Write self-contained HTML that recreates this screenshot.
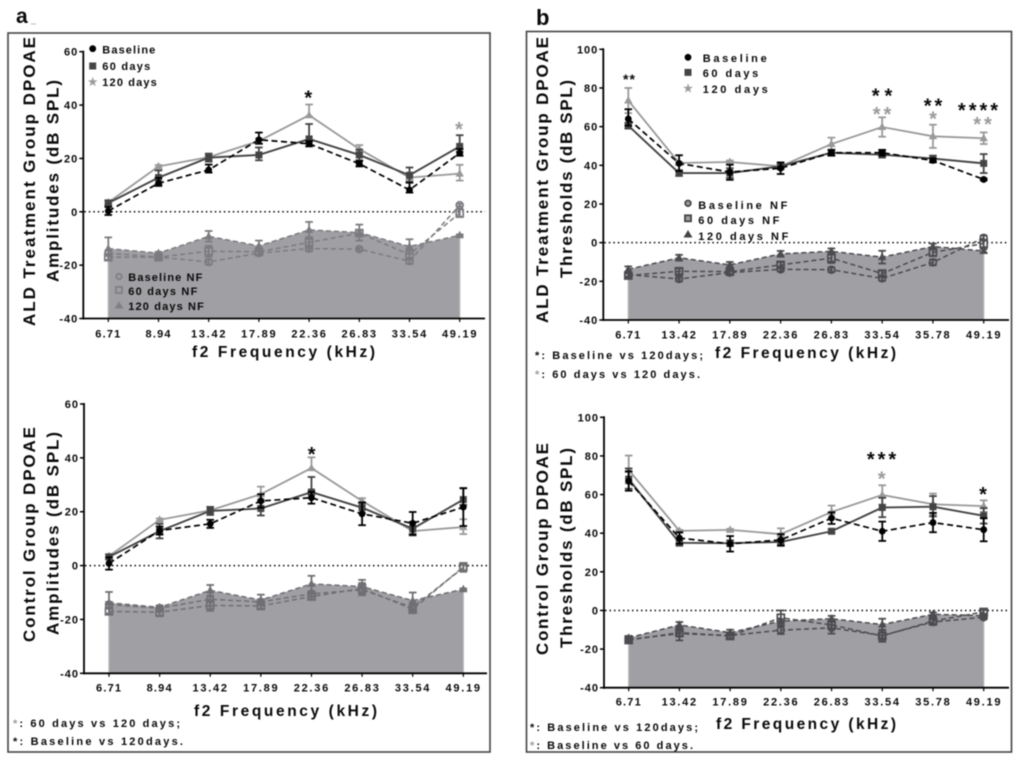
<!DOCTYPE html>
<html lang="en">
<head>
<meta charset="utf-8">
<title>DPOAE amplitudes and thresholds</title>
<style>
html,body{margin:0;padding:0;background:#fff;width:1020px;height:763px;overflow:hidden}
svg{display:block;filter:blur(0.5px)}
text{font-family:"Liberation Sans",sans-serif;font-weight:700;fill:#0a0a0a}
.frame{fill:none;stroke:#444;stroke-width:1.6}
.yt{font-size:17px}
.xt{font-size:15.5px}
.leg{font-size:11px}
.fn{font-size:11px}
.gray{fill:#9a9a9a}
.star{font-size:20px;text-anchor:middle}
</style>
</head>
<body>
<svg id="fig" xmlns="http://www.w3.org/2000/svg" width="1020" height="763" viewBox="0 0 1020 763">
  <rect x="0" y="0" width="1020" height="763" fill="#fff"/>
  <rect class="frame" x="8" y="33" width="482" height="719"/>
  <rect class="frame" x="526.5" y="31.5" width="485" height="720.5"/>
  <text x="16" y="23" style="font-size:21px">a</text>
  <rect x="31" y="23.5" width="5" height="1" fill="#bbb"/>
  <text x="536" y="25" style="font-size:22px">b</text>

  <g id="plots"></g>

  <!-- Y titles -->
  <text class="yt" transform="translate(35,326) rotate(-90)" textLength="289" lengthAdjust="spacing">ALD Treatment Group DPOAE</text>
  <text class="yt" transform="translate(58.5,282) rotate(-90)" textLength="202" lengthAdjust="spacing">Amplitudes (dB SPL)</text>
  <text class="yt" transform="translate(35,642) rotate(-90)" textLength="215" lengthAdjust="spacing">Control Group DPOAE</text>
  <text class="yt" transform="translate(58.5,635) rotate(-90)" textLength="203" lengthAdjust="spacing">Amplitudes (dB SPL)</text>
  <text class="yt" transform="translate(548,323) rotate(-90)" textLength="286" lengthAdjust="spacing">ALD Treatment Group DPOAE</text>
  <text class="yt" transform="translate(572,278) rotate(-90)" textLength="198" lengthAdjust="spacing">Thresholds (dB SPL)</text>
  <text class="yt" transform="translate(548,655) rotate(-90)" textLength="212" lengthAdjust="spacing">Control Group DPOAE</text>
  <text class="yt" transform="translate(572,648) rotate(-90)" textLength="200" lengthAdjust="spacing">Thresholds (dB SPL)</text>

  <!-- X titles -->
  <text class="xt" x="192" y="357" textLength="183" lengthAdjust="spacing">f2 Frequency (kHz)</text>
  <text class="xt" x="194" y="716" textLength="183" lengthAdjust="spacing">f2 Frequency (kHz)</text>
  <text class="xt" x="715" y="358" textLength="181" lengthAdjust="spacing">f2 Frequency (kHz)</text>
  <text class="xt" x="716" y="729" textLength="180" lengthAdjust="spacing">f2 Frequency (kHz)</text>

  <!-- Footnotes -->
  <text class="fn" x="13" y="727" textLength="167" lengthAdjust="spacing"><tspan class="gray">*</tspan>: 60 days vs 120 days;</text>
  <text class="fn" x="13" y="745" textLength="170" lengthAdjust="spacing">*: Baseline vs 120days.</text>
  <text class="fn" x="535" y="359" textLength="168" lengthAdjust="spacing">*: Baseline vs 120days;</text>
  <text class="fn" x="535" y="378" textLength="165" lengthAdjust="spacing"><tspan class="gray">*</tspan>: 60 days vs 120 days.</text>
  <text class="fn" x="530" y="731" textLength="168" lengthAdjust="spacing">*: Baseline vs 120days;</text>
  <text class="fn" x="530" y="749" textLength="163" lengthAdjust="spacing"><tspan class="gray">*</tspan>: Baseline vs 60 days.</text>

  <!-- Legends -->
  <g>
    <circle cx="92.7" cy="48.7" r="3.4" fill="#000"/>
    <rect x="89.2" y="62.5" width="7" height="7" fill="#454545"/>
    <text x="92.7" y="85.5" text-anchor="middle" style="font-size:11px;fill:#9a9a9a">★</text>
    <text class="leg" x="102.3" y="53.5" textLength="53" lengthAdjust="spacing">Baseline</text>
    <text class="leg" x="102.3" y="70" textLength="48" lengthAdjust="spacing">60 days</text>
    <text class="leg" x="102.3" y="86" textLength="54.5" lengthAdjust="spacing">120 days</text>
  </g>
  <g>
    <circle cx="119" cy="276.5" r="2.7" fill="none" stroke="#808084" stroke-width="1.8"/>
    <rect x="116" y="287" width="6" height="6" fill="none" stroke="#808084" stroke-width="1.8"/>
    <path d="M119 301.5 L123.5 308.5 L114.5 308.5 Z" fill="#808084"/>
    <text class="leg" x="128.3" y="281" textLength="74" lengthAdjust="spacing">Baseline NF</text>
    <text class="leg" x="128.3" y="295" textLength="69" lengthAdjust="spacing">60 days NF</text>
    <text class="leg" x="128.3" y="310" textLength="75.5" lengthAdjust="spacing">120 days NF</text>
  </g>
  <g>
    <circle cx="688" cy="57.3" r="3.4" fill="#000"/>
    <rect x="684.5" y="68.9" width="7" height="7" fill="#454545"/>
    <text x="688" y="92" text-anchor="middle" style="font-size:11px;fill:#9a9a9a">★</text>
    <text class="leg" x="702.7" y="62" textLength="64" lengthAdjust="spacing">Baseline</text>
    <text class="leg" x="702.7" y="77" textLength="55.5" lengthAdjust="spacing">60 days</text>
    <text class="leg" x="702.7" y="93" textLength="65" lengthAdjust="spacing">120 days</text>
  </g>
  <g>
    <circle cx="688" cy="203.3" r="2.8" fill="#a0a0a4" stroke="#444" stroke-width="1.8"/>
    <rect x="685" y="215.3" width="6" height="6" fill="#a0a0a4" stroke="#444" stroke-width="1.8"/>
    <path d="M688 230 L692.5 237.5 L683.5 237.5 Z" fill="#444"/>
    <text class="leg" x="698.3" y="209" textLength="89" lengthAdjust="spacing">Baseline NF</text>
    <text class="leg" x="698.3" y="224" textLength="81" lengthAdjust="spacing">60 days NF</text>
    <text class="leg" x="698.3" y="240" textLength="90" lengthAdjust="spacing">120 days NF</text>
  </g>

  <!-- Significance stars -->
  <text class="star" x="308.3" y="104.5">*</text>
  <text class="star gray" x="459" y="136">*</text>
  <text class="star" x="311.7" y="461">*</text>
  <text x="629.5" y="84" style="font-size:14px;letter-spacing:1px;text-anchor:middle">**</text>
  <text class="star" x="884.5" y="102.5" style="letter-spacing:5px">**</text>
  <text class="star gray" x="883.5" y="121" style="letter-spacing:3px">**</text>
  <text class="star" x="934.5" y="112.5" style="letter-spacing:3px">**</text>
  <text class="star gray" x="933" y="125.5">*</text>
  <text class="star" x="979.5" y="117" style="letter-spacing:3px">****</text>
  <text class="star gray" x="984" y="131" style="letter-spacing:3px">**</text>
  <text class="star" x="883" y="466" style="letter-spacing:3px">***</text>
  <text class="star gray" x="881.7" y="485.5">*</text>
  <text class="star" x="983" y="501">*</text>
</svg>

<script>
// Shared categories and ticks
const ampFreqs = ['6.71','8.94','13.42','17.89','22.36','26.83','33.54','49.19'];
const thrFreqs = ['6.71','13.42','17.89','22.36','26.83','33.54','35.78','49.19'];
const ampTicks = [60,40,20,0,-20,-40];
const thrTicks = [100,80,60,40,20,0,-20,-40];

// Panel a, top: ALD amplitudes
const aTopBaseline = [0.3,10.7,15.7,27,25.5,18,8.2,22];
const aTopBaselineUp = [1.5,2,2,2.7,1,1,2.7,1.5];
const aTopBaselineDown = [1.5,1,1,1.5,1,1,1,1];
const aTop60 = [3.3,12.8,20.3,21.3,27.3,21.3,13.7,24.5];
const aTop60Up = [1,2.7,1.5,2.8,5.6,2,2.9,4.2];
const aTop60Down = [1,2.5,1.5,2,1,2,2.5,2];
const aTop120 = [3.5,17,20.5,26.5,36.2,23.5,12.8,14.3];
const aTop120Up = [0.5,0.5,0.5,1,4,1.5,0.8,3.3];
const aTop120Down = [0.5,0.5,0.5,1,0.5,1.5,0.8,2.6];
const aTopBaselineNF = [-15.5,-17,-18.8,-15.5,-13.8,-14,-18.5,2.5];
const aTopBaselineNFErr = [1,0.5,1,0.8,1,0.5,1,0.5];
const aTop60NF = [-17,-17,-14.8,-15,-11.5,-8,-16,-0.5];
const aTop60NFErr = [1,0.7,2,1,2,1,2,1.5];
const aTop120NF = [-13.8,-15.5,-9.2,-12.8,-6.8,-7.8,-13,-8.8];
const aTop120NFErr = [4.2,0.5,2,2,3,3,2.7,0.3];

// Panel a, bottom: control amplitudes
const aBotBaseline = [0.8,13,15.5,24,25.2,19.2,15.7,21.7];
const aBotBaselineUp = [2.3,1.5,1.5,2.5,2.2,4.2,4.2,7];
const aBotBaselineDown = [2.3,1.5,1.5,2.5,2.2,4.2,4.2,7];
const aBot60 = [3.2,12.8,20.3,21.2,27.3,21.5,13.7,24.5];
const aBot60Up = [1,2.7,1.5,2.5,5.6,2,2.5,4.3];
const aBot60Down = [1,2.7,1.5,2.6,1,2,2.5,2];
const aBot120 = [3.5,17,20.5,26.5,36.2,24,12.8,14.3];
const aBot120Up = [0.5,0.5,0.5,2.8,4,1,1,2.9];
const aBot120Down = [0.5,0.5,0.5,2,0.5,1,1,2.6];
const aBotBaselineNF = [-14.5,-15.8,-12.5,-13.5,-10.5,-9,-15.5,-0.8];
const aBotBaselineNFErr = [1,1,2.5,1,1,2,1.5,1.5];
const aBot60NF = [-17,-17.3,-14.8,-15,-11.5,-8.5,-16.2,-0.5];
const aBot60NFErr = [1,1.5,2,1,1,2,1.5,1.5];
const aBot120NF = [-13.8,-15.5,-9.2,-12.8,-6.8,-7.8,-13,-8.8];
const aBot120NFErr = [4,0.5,2,2,3,2.5,3,0.3];

// Panel b, top: ALD thresholds
const bTopBaseline = [64,41,36.5,38.5,46.5,46.5,42.5,32.7];
const bTopBaselineUp = [5,4.2,3.8,3,1.5,1.5,1,0.5];
const bTopBaselineDown = [3.5,4,4,3,1.5,1.5,1,0.5];
const bTop60 = [60.5,36,36,39.5,46.5,45.5,43.5,41];
const bTop60Up = [1.5,1.5,2.5,1.5,1.5,2,1.5,4.8];
const bTop60Down = [1.5,1.5,2.5,1.5,1.5,1.5,1.5,5];
const bTop120 = [73.5,41.2,41.7,39.5,51,59.8,55,54];
const bTop120Up = [6.5,0.5,0.8,1,3.3,5,6,3];
const bTop120Down = [6.5,0.5,0.5,1,3,5,6,3];
const bTopBaselineNF = [-16.5,-18.8,-15.5,-13.8,-14,-18.5,-10.2,2.5];
const bTopBaselineNFErr = [1,1.2,1,1,1.2,1.2,1.5,1.2];
const bTop60NF = [-17,-14.8,-15,-11.5,-8,-16,-5,-0.5];
const bTop60NFErr = [1,1.5,1.5,1.5,2.5,1.5,2,2];
const bTop120NF = [-13.8,-7.8,-11.5,-5.8,-4.5,-7.5,-2,-4.3];
const bTop120NFErr = [1.5,1.5,1.5,1.5,1.5,3.3,1.5,1];

// Panel b, bottom: control thresholds
const bBotBaseline = [67,37.5,34.5,36.5,47.8,41,45.5,41.8];
const bBotBaselineUp = [5,3,4,3,3,5,5,6];
const bBotBaselineDown = [5,3,4,3,3,5,5,6];
const bBot60 = [68,35,34.8,35.5,41,53.3,53.7,49];
const bBot60Up = [5.5,1.5,1.5,1.5,1,5,5.5,4];
const bBot60Down = [5,1.5,1.5,1.5,1,5,5,4];
const bBot120 = [72.7,41.2,41.7,39.5,51,59.8,55,54];
const bBot120Up = [7.5,0.5,0.5,3,3.3,5,5.5,3];
const bBot120Down = [7,0.5,0.5,1,3,5,5.5,3];
const bBotBaselineNF = [-15,-12,-13,-10.2,-9,-13,-6,-3.5];
const bBotBaselineNFErr = [1,3.5,1.5,2,3,3,1.5,1];
const bBot60NF = [-15.3,-11.5,-13.2,-3.8,-7.5,-13.2,-5.5,-0.8];
const bBot60NFErr = [1,2,1.5,3.8,2,3,1.5,1];
const bBot120NF = [-14.2,-7.5,-11.5,-5.5,-4.3,-7.3,-2,-2.7];
const bBot120NFErr = [1,1.5,1.5,1,1.5,3,1,1];

const SVGNS = 'http://www.w3.org/2000/svg';

function make(parent, tag, attrs, name) {
  const node = document.createElementNS(SVGNS, tag);
  for (const k in attrs) node.setAttribute(k, attrs[k]);
  
  
  parent.appendChild(node);
  return node;
}

function marker(parent, kind, x, y, color, fill, name) {
  if (kind === 'circle') {
    return make(parent, 'circle', {cx: x, cy: y, r: 3.4, fill: fill, stroke: color, 'stroke-width': fill === color ? 0 : 1.7}, name);
  }
  if (kind === 'square') {
    return make(parent, 'rect', {x: x - 3.5, y: y - 3.5, width: 7, height: 7, fill: fill, stroke: color, 'stroke-width': fill === color ? 0 : 1.7}, name);
  }
  const p = [x, y - 4.5, x + 4.2, y + 3, x - 4.2, y + 3].join(' ');
  return make(parent, 'polygon', {points: p, fill: color}, name);
}

function drawSeries(g, sx, sy, values, up, down, opt) {
  const pts = values.map((v, i) => sx(i) + ',' + sy(v)).join(' ');
  for (let i = 0; i < values.length; i++) {
    const x = sx(i);
    const top = sy(values[i] + up[i]);
    const bot = sy(values[i] - down[i]);
    make(g, 'line', {x1: x, x2: x, y1: top, y2: bot, stroke: opt.barColor, 'stroke-width': 1.8}, opt.name + '-error-bar');
    make(g, 'line', {x1: x - 3.8, x2: x + 3.8, y1: top, y2: top, stroke: opt.barColor, 'stroke-width': 1.8}, opt.name + '-error-cap-top');
    make(g, 'line', {x1: x - 3.8, x2: x + 3.8, y1: bot, y2: bot, stroke: opt.barColor, 'stroke-width': 1.8}, opt.name + '-error-cap-bottom');
  }
  const lineAttrs = {points: pts, fill: 'none', stroke: opt.color, 'stroke-width': opt.width};
  if (opt.dash) lineAttrs['stroke-dasharray'] = opt.dash;
  make(g, 'polyline', lineAttrs, opt.name + '-line');
  for (let i = 0; i < values.length; i++) {
    marker(g, opt.kind, sx(i), sy(values[i]), opt.color, opt.fill, opt.name + '-point');
  }
}

function drawPanel(p) {
  const root = document.getElementById('plots');
  const g = make(root, 'g', {}, p.name);
  const n = p.categories.length;
  const sx = i => p.firstX + (p.lastX - p.firstX) * i / (n - 1);
  const sy = v => p.yBottom - (v - p.min) * (p.yBottom - p.yTop) / (p.max - p.min);

  // shaded noise floor under the 120-day NF series
  const floorTop = p.nf120.map((v, i) => sx(i) + ' ' + sy(v)).join(' L');
  make(g, 'path', {d: 'M' + sx(0) + ' ' + p.yBottom + ' L' + floorTop + ' L' + sx(n - 1) + ' ' + p.yBottom + ' Z', fill: '#a0a0a4'}, p.name + '-noise-floor-area');
  make(g, 'line', {x1: sx(0), x2: sx(0), y1: sy(p.nf120[0]), y2: p.yBottom, stroke: '#b4b4b6', 'stroke-width': 1.2}, p.name + '-noise-floor-left-edge');
  make(g, 'line', {x1: sx(n - 1), x2: sx(n - 1), y1: sy(p.nf120[n - 1]), y2: p.yBottom, stroke: '#b4b4b6', 'stroke-width': 1.2}, p.name + '-noise-floor-right-edge');

  // axes
  make(g, 'line', {x1: p.axisX, x2: p.axisX, y1: p.yTop - 1, y2: p.yBottom + 1, stroke: '#000', 'stroke-width': 1.8}, p.name + '-y-axis');
  make(g, 'line', {x1: p.axisX - 1, x2: p.axisEnd, y1: p.yBottom, y2: p.yBottom, stroke: '#000', 'stroke-width': 1.8}, p.name + '-x-axis');
  p.ticks.forEach(t => {
    const y = sy(t);
    make(g, 'line', {x1: p.axisX - 4, x2: p.axisX, y1: y, y2: y, stroke: '#000', 'stroke-width': 1.5}, p.name + '-y-tick');
    const lab = make(g, 'text', {x: p.axisX - 5, y: y + 4, 'text-anchor': 'end', style: 'font-size:11px;letter-spacing:1px'}, p.name + '-y-tick-label');
    lab.textContent = t;
  });
  p.categories.forEach((c, i) => {
    const x = sx(i);
    make(g, 'line', {x1: x, x2: x, y1: p.yBottom, y2: p.yBottom + 3.5, stroke: '#000', 'stroke-width': 1.2}, p.name + '-x-tick');
    const lab = make(g, 'text', {x: x - 0.5, y: p.xLabelY, 'text-anchor': 'middle', style: 'font-size:11px', textLength: c.length === 4 ? 25 : 34.5, lengthAdjust: 'spacing'}, p.name + '-x-tick-label');
    lab.textContent = c;
  });

  // zero reference
  make(g, 'line', {x1: p.axisX + 1, x2: p.axisEnd, y1: sy(0), y2: sy(0), stroke: '#000', 'stroke-width': 1.5, 'stroke-dasharray': '1.5 3'}, p.name + '-zero-line');

  // noise floor series
  const nfc = p.nfColor;
  drawSeries(g, sx, sy, p.nfBase, p.nfBaseErr, p.nfBaseErr, {name: p.name + '-baseline-nf', color: nfc, barColor: nfc, width: 1.5, dash: '5 3', kind: 'circle', fill: 'none'});
  drawSeries(g, sx, sy, p.nf60, p.nf60Err, p.nf60Err, {name: p.name + '-60-days-nf', color: nfc, barColor: nfc, width: 1.5, dash: '5 3', kind: 'square', fill: 'none'});
  drawSeries(g, sx, sy, p.nf120, p.nf120Err, p.nf120Err, {name: p.name + '-120-days-nf', color: nfc, barColor: nfc, width: 1.5, dash: '5 3', kind: 'triangle', fill: nfc});

  // main series
  drawSeries(g, sx, sy, p.s120, p.s120Up, p.s120Down, {name: p.name + '-120-days', color: '#999', barColor: '#999', width: 1.8, kind: 'triangle', fill: '#999'});
  drawSeries(g, sx, sy, p.s60, p.s60Up, p.s60Down, {name: p.name + '-60-days', color: '#444', barColor: '#444', width: 1.9, kind: 'square', fill: '#444'});
  drawSeries(g, sx, sy, p.base, p.baseUp, p.baseDown, {name: p.name + '-baseline', color: '#000', barColor: '#000', width: 1.7, dash: '6 3.5', kind: 'circle', fill: '#000'});
}

drawPanel({name: 'a-top-chart', categories: ampFreqs, ticks: ampTicks, min: -40, max: 60,
  axisX: 83.3, axisEnd: 485, firstX: 108.3, lastX: 459.7, yTop: 51.7, yBottom: 318.5, xLabelY: 337.5, nfColor: '#7c7c80',
  base: aTopBaseline, baseUp: aTopBaselineUp, baseDown: aTopBaselineDown,
  s60: aTop60, s60Up: aTop60Up, s60Down: aTop60Down,
  s120: aTop120, s120Up: aTop120Up, s120Down: aTop120Down,
  nfBase: aTopBaselineNF, nfBaseErr: aTopBaselineNFErr,
  nf60: aTop60NF, nf60Err: aTop60NFErr,
  nf120: aTop120NF, nf120Err: aTop120NFErr});

drawPanel({name: 'a-bottom-chart', categories: ampFreqs, ticks: ampTicks, min: -40, max: 60,
  axisX: 84, axisEnd: 487, firstX: 109, lastX: 463.3, yTop: 404, yBottom: 673.3, xLabelY: 691.5, nfColor: '#707074',
  base: aBotBaseline, baseUp: aBotBaselineUp, baseDown: aBotBaselineDown,
  s60: aBot60, s60Up: aBot60Up, s60Down: aBot60Down,
  s120: aBot120, s120Up: aBot120Up, s120Down: aBot120Down,
  nfBase: aBotBaselineNF, nfBaseErr: aBotBaselineNFErr,
  nf60: aBot60NF, nf60Err: aBot60NFErr,
  nf120: aBot120NF, nf120Err: aBot120NFErr});

drawPanel({name: 'b-top-chart', categories: thrFreqs, ticks: thrTicks, min: -40, max: 100,
  axisX: 603.3, axisEnd: 1009, firstX: 628.3, lastX: 983.7, yTop: 49.3, yBottom: 320, xLabelY: 338.5, nfColor: '#4c4c50',
  base: bTopBaseline, baseUp: bTopBaselineUp, baseDown: bTopBaselineDown,
  s60: bTop60, s60Up: bTop60Up, s60Down: bTop60Down,
  s120: bTop120, s120Up: bTop120Up, s120Down: bTop120Down,
  nfBase: bTopBaselineNF, nfBaseErr: bTopBaselineNFErr,
  nf60: bTop60NF, nf60Err: bTop60NFErr,
  nf120: bTop120NF, nf120Err: bTop120NFErr});

drawPanel({name: 'b-bottom-chart', categories: thrFreqs, ticks: thrTicks, min: -40, max: 100,
  axisX: 604, axisEnd: 1009, firstX: 628.7, lastX: 983.7, yTop: 417.3, yBottom: 687.7, xLabelY: 705.5, nfColor: '#4c4c50',
  base: bBotBaseline, baseUp: bBotBaselineUp, baseDown: bBotBaselineDown,
  s60: bBot60, s60Up: bBot60Up, s60Down: bBot60Down,
  s120: bBot120, s120Up: bBot120Up, s120Down: bBot120Down,
  nfBase: bBotBaselineNF, nfBaseErr: bBotBaselineNFErr,
  nf60: bBot60NF, nf60Err: bBot60NFErr,
  nf120: bBot120NF, nf120Err: bBot120NFErr});
</script>
</body>
</html>
